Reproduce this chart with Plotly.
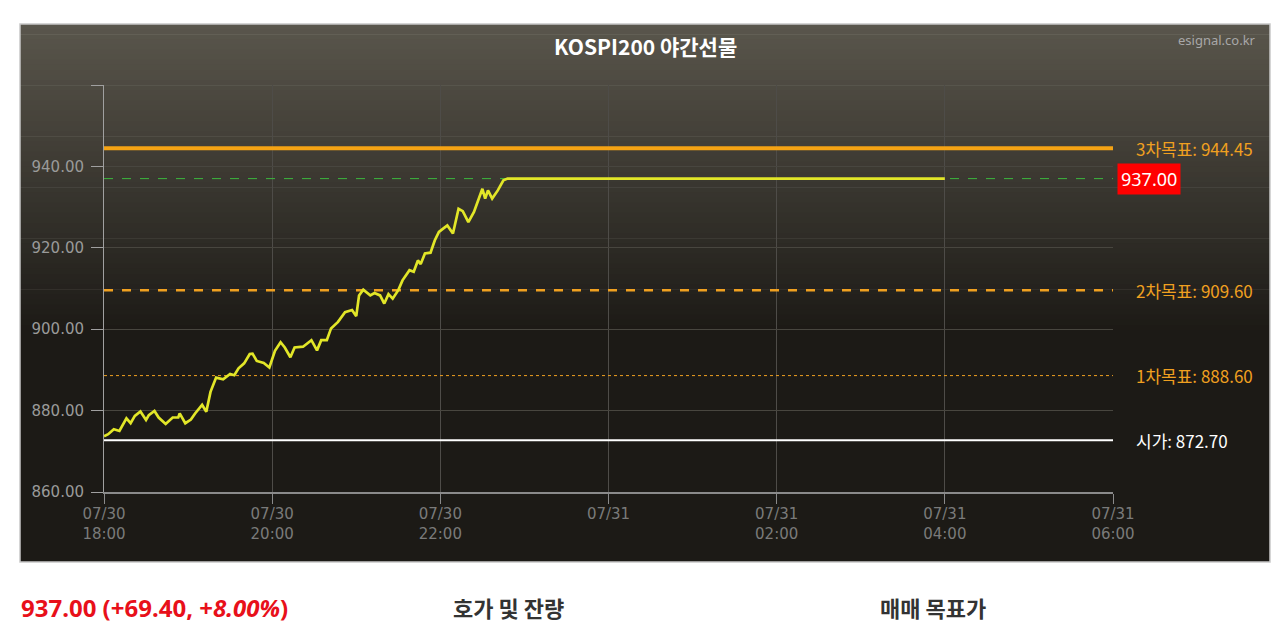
import plotly.graph_objects as go
from datetime import datetime, timedelta

# ---------------- data ----------------
start_time = "2024-07-30 18:00"
minutes_from_start = [0, 3, 7, 11, 16, 19, 22, 26, 30, 32, 36, 39, 44, 49, 53, 54, 58, 62, 65, 70,
                      73, 76, 80, 85, 90, 93, 96, 100, 104, 106, 109, 114, 118, 122, 126, 129, 133,
                      136, 142, 148, 152, 155, 159, 162, 167, 172, 177, 180, 182, 185, 190, 193,
                      197, 200, 203, 206, 210, 213, 218, 221, 224, 226, 229, 233, 236, 239, 242,
                      245, 249, 253, 256, 260, 264, 267, 270, 272, 274, 277, 281, 285, 288, 600]
prices = [873.7, 874.2, 875.4, 875.0, 878.1, 876.9, 878.7, 879.8, 877.7, 878.9, 879.9, 878.3,
          876.7, 878.3, 878.3, 879.3, 876.9, 877.8, 879.3, 881.4, 879.7, 884.6, 888.1, 887.7,
          889.0, 888.7, 890.4, 891.6, 893.9, 894.0, 892.2, 891.7, 890.6, 894.7, 896.8, 895.5,
          893.1, 895.5, 895.7, 897.3, 894.8, 897.3, 897.3, 900.2, 901.8, 904.2, 904.7, 903.2,
          908.3, 909.7, 908.3, 908.9, 908.3, 906.3, 908.6, 907.5, 909.6, 912.0, 914.5, 914.1,
          916.9, 916.0, 918.6, 918.8, 921.8, 923.9, 924.7, 925.5, 923.5, 929.6, 929.0, 926.3,
          928.8, 931.7, 934.5, 932.1, 934.1, 932.1, 934.1, 936.6, 937.0, 937.0]

target3 = 944.45
current_price = 937.00
target2 = 909.60
target1 = 888.60
open_price = 872.70

y_tick_values = [860, 880, 900, 920, 940, 960]
y_tick_labels = ["860.00", "880.00", "900.00", "920.00", "940.00", ""]
x_tick_values = ["2024-07-30 18:00", "2024-07-30 20:00", "2024-07-30 22:00", "2024-07-31 00:00",
                 "2024-07-31 02:00", "2024-07-31 04:00", "2024-07-31 06:00"]
x_tick_labels = ["07/30<br>18:00", "07/30<br>20:00", "07/30<br>22:00", "07/31",
                 "07/31<br>02:00", "07/31<br>04:00", "07/31<br>06:00"]

title_text = "KOSPI200 야간선물"
source_text = "esignal.co.kr"
change_text = "937.00 (+69.40, +<i>8.00%</i>)"
section1 = "호가 및 잔량"
section2 = "매매 목표가"

# ---------------- build ----------------
t0 = datetime.strptime(start_time, "%Y-%m-%d %H:%M")
times = [t0 + timedelta(minutes=m) for m in minutes_from_start]
x_start, x_end = x_tick_values[0], x_tick_values[-1]

OFF = 8  # page body margin
W, H = 1264, 617
# plot area in page pixels
L, R, T, B = 104, 1113, 85, 492


def px(xp):
    return (xp - L) / (R - L)


def py(yp):
    return (B - yp) / (B - T)


fig = go.Figure()


def hline(y, color, width, dash):
    fig.add_trace(go.Scatter(x=[x_start, x_end], y=[y, y], mode="lines",
                             line=dict(color=color, width=width, dash=dash),
                             hoverinfo="skip", showlegend=False))


hline(open_price, "#ffffff", 2, "solid")
hline(target1, "#f0a020", 1, "dot")
hline(target2, "#f0a020", 2.5, "dash")
hline(current_price, "#3db83d", 1, "dash")
hline(target3, "#f5a314", 4, "solid")

fig.add_trace(go.Scatter(x=times, y=prices, mode="lines",
                         line=dict(color="#e2e628", width=2.7, shape="linear"),
                         hoverinfo="skip", showlegend=False))

shapes = []
top_c = (90, 86, 76)
bot_c = (28, 26, 22)
y_top, y_grad_end, y_bot = 24, 330, 562
n = 60
for i in range(n):
    y0 = y_top + (y_grad_end - y_top) * i / n
    y1 = y_top + (y_grad_end - y_top) * (i + 1) / n + 0.6
    f = (i + 0.5) / n
    c = tuple(int(round(top_c[k] + (bot_c[k] - top_c[k]) * f)) for k in range(3))
    shapes.append(dict(type="rect", xref="paper", yref="paper", layer="below",
                       x0=px(20), x1=px(1270), y0=py(y1), y1=py(y0),
                       fillcolor="rgb(%d,%d,%d)" % c, line=dict(width=0)))
shapes.append(dict(type="rect", xref="paper", yref="paper", layer="below",
                   x0=px(20), x1=px(1270), y0=py(y_bot), y1=py(y_grad_end),
                   fillcolor="rgb(%d,%d,%d)" % bot_c, line=dict(width=0)))
shapes.append(dict(type="rect", xref="paper", yref="paper", layer="above",
                   x0=px(20), x1=px(1270), y0=py(562), y1=py(24),
                   fillcolor="rgba(0,0,0,0)", line=dict(color="#c8c8c8", width=1.5)))

lab_font = "Noto Sans CJK KR"
annotations = [
    dict(text="<b>%s</b>" % title_text, xref="paper", yref="paper", x=px(645), y=py(46),
         xanchor="center", yanchor="middle", showarrow=False,
         font=dict(family=lab_font, size=21, color="#ffffff")),
    dict(text=source_text, xref="paper", yref="paper", x=px(1258), y=py(40),
         xanchor="right", yanchor="middle", showarrow=False,
         font=dict(family="Noto Sans", size=13, color="#a8a8a8")),
    dict(text="3차목표: %.2f" % target3, xref="paper", yref="y", x=px(1134), y=target3,
         xanchor="left", yanchor="middle", showarrow=False,
         font=dict(family=lab_font, size=17, color="#f0a020")),
    dict(text="2차목표: %.2f" % target2, xref="paper", yref="y", x=px(1134), y=target2,
         xanchor="left", yanchor="middle", showarrow=False,
         font=dict(family=lab_font, size=17, color="#f0a020")),
    dict(text="1차목표: %.2f" % target1, xref="paper", yref="y", x=px(1134), y=target1,
         xanchor="left", yanchor="middle", showarrow=False,
         font=dict(family=lab_font, size=17, color="#f0a020")),
    dict(text="시가: %.2f" % open_price, xref="paper", yref="y", x=px(1134), y=open_price,
         xanchor="left", yanchor="middle", showarrow=False,
         font=dict(family=lab_font, size=17, color="#ffffff")),
    dict(text="%.2f" % current_price, xref="paper", yref="y", x=px(1117), y=current_price,
         xanchor="left", yanchor="middle", showarrow=False, bgcolor="#ff0000", borderpad=3,
         font=dict(family="Noto Sans", size=18, color="#ffffff")),
    dict(text="<b>%s</b>" % change_text, xref="paper", yref="paper", x=px(19), y=py(607),
         xanchor="left", yanchor="middle", showarrow=False,
         font=dict(family="Noto Sans", size=24, color="#e8101a")),
    dict(text="<b>%s</b>" % section1, xref="paper", yref="paper", x=px(508), y=py(607),
         xanchor="center", yanchor="middle", showarrow=False,
         font=dict(family=lab_font, size=22, color="#333333")),
    dict(text="<b>%s</b>" % section2, xref="paper", yref="paper", x=px(933), y=py(607),
         xanchor="center", yanchor="middle", showarrow=False,
         font=dict(family=lab_font, size=22, color="#333333")),
]

fig.update_layout(
    width=W, height=H,
    margin=dict(l=L - OFF, r=W - (R - OFF), t=T - OFF, b=H - (B - OFF), pad=0),
    paper_bgcolor="#ffffff",
    plot_bgcolor="rgba(0,0,0,0)",
    showlegend=False,
    shapes=shapes,
    annotations=annotations,
    xaxis=dict(range=[x_start, x_end], type="date", tickvals=x_tick_values, ticktext=x_tick_labels,
               showgrid=True, gridcolor="#4e4c48", gridwidth=1,
               showline=True, linecolor="#8a8a8a", linewidth=2,
               ticks="outside", ticklen=10, tickcolor="#8a8a8a", tickwidth=1,
               ticklabelstandoff=-3,
               tickfont=dict(family="DejaVu Sans", size=15, color="#7a7a7a"),
               zeroline=False, fixedrange=True),
    yaxis=dict(range=[860, 960], tickvals=y_tick_values, ticktext=y_tick_labels,
               showgrid=True, gridcolor="#48463f", gridwidth=1,
               showline=True, linecolor="#a0a0a0", linewidth=1,
               ticks="outside", ticklen=12, tickcolor="#a0a0a0", tickwidth=1,
               ticklabelstandoff=4,
               tickfont=dict(family="DejaVu Sans", size=15, color="#9a9a9a"),
               zeroline=False, fixedrange=True),
)

fig.write_html("out.html")
